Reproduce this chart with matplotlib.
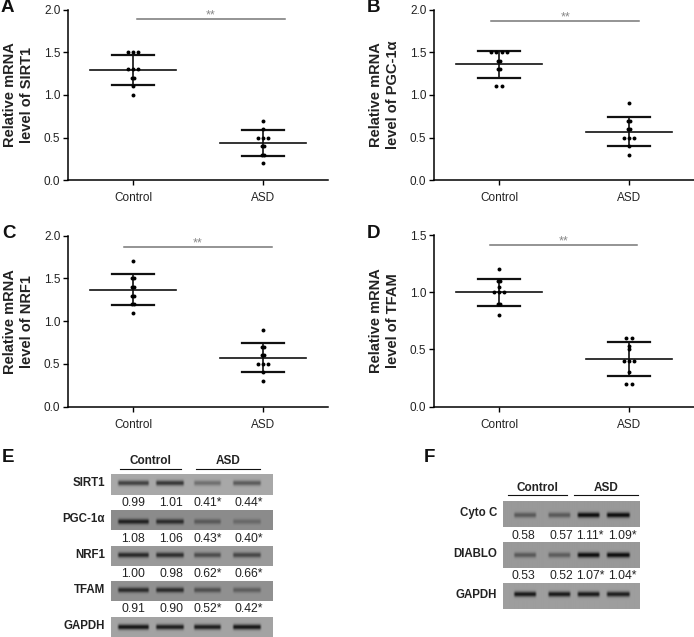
#!/usr/bin/env python3
"""Relative mRNA dot plots (A-D) and western blot panels (E, F)."""

import numpy as np
import matplotlib
matplotlib.use("Agg")
import matplotlib.pyplot as plt

plt.rcParams["font.family"] = ["Liberation Sans", "DejaVu Sans"]

W, H = 694, 637
TEXT = "#222222"

groups = ["Control", "ASD"]

sirt1_control = [1.5, 1.5, 1.5, 1.3, 1.3, 1.3, 1.2, 1.2, 1.1, 1.0]
sirt1_asd = [0.7, 0.6, 0.5, 0.5, 0.5, 0.4, 0.4, 0.3, 0.3, 0.2]
sirt1_mean = [1.29, 0.44]
sirt1_sd = [0.175, 0.15]

pgc_control = [1.5, 1.5, 1.5, 1.5, 1.4, 1.4, 1.3, 1.3, 1.1, 1.1]
pgc_asd = [0.9, 0.7, 0.7, 0.6, 0.6, 0.5, 0.5, 0.5, 0.4, 0.3]
pgc_mean = [1.36, 0.57]
pgc_sd = [0.158, 0.17]

nrf1_control = [1.7, 1.5, 1.5, 1.4, 1.4, 1.3, 1.3, 1.2, 1.2, 1.1]
nrf1_asd = [0.9, 0.7, 0.7, 0.6, 0.6, 0.5, 0.5, 0.5, 0.4, 0.3]
nrf1_mean = [1.37, 0.57]
nrf1_sd = [0.183, 0.17]

tfam_control = [1.2, 1.1, 1.1, 1.05, 1.0, 1.0, 1.0, 0.9, 0.9, 0.8]
tfam_asd = [0.6, 0.6, 0.53, 0.5, 0.4, 0.4, 0.4, 0.3, 0.2, 0.2]
tfam_mean = [1.0, 0.415]
tfam_sd = [0.118, 0.148]

e_targets = ["SIRT1", "PGC-1α", "NRF1", "TFAM", "GAPDH"]
e_values = [
    ["0.99", "1.01", "0.41*", "0.44*"],
    ["1.08", "1.06", "0.43*", "0.40*"],
    ["1.00", "0.98", "0.62*", "0.66*"],
    ["0.91", "0.90", "0.52*", "0.42*"],
]
e_band_depth = [
    [0.40, 0.44, 0.22, 0.30],
    [0.42, 0.38, 0.20, 0.14],
    [0.44, 0.42, 0.30, 0.32],
    [0.40, 0.40, 0.26, 0.20],
    [0.55, 0.52, 0.52, 0.55],
]
e_background = [0.66, 0.55, 0.60, 0.57, 0.64]

f_targets = ["Cyto C", "DIABLO", "GAPDH"]
f_values = [
    ["0.58", "0.57", "1.11*", "1.09*"],
    ["0.53", "0.52", "1.07*", "1.04*"],
]
f_band_depth = [
    [0.25, 0.25, 0.55, 0.55],
    [0.25, 0.24, 0.55, 0.55],
    [0.52, 0.52, 0.52, 0.50],
]
f_background = [0.60, 0.60, 0.62]


def add_axes_px(fig, x0, y0, x1, y1):
    """Axes from pixel box, y measured from the top of the figure."""
    return fig.add_axes([x0 / W, 1 - y1 / H, (x1 - x0) / W, (y1 - y0) / H])


def fig_text(fig, x, y, s, **kw):
    kw.setdefault("color", TEXT)
    kw.setdefault("va", "center")
    fig.text(x / W, 1 - y / H, s, **kw)


def fig_hline(fig, x0, x1, y):
    fig.add_artist(plt.Line2D([x0 / W, x1 / W], [1 - y / H, 1 - y / H],
                              color="#111111", lw=0.8))


def swarm_offsets(values):
    """Spread tied values sideways, the way a scatter dot plot does."""
    values = np.asarray(values)
    offsets = np.zeros(len(values))
    for v in np.unique(values):
        idx = np.where(values == v)[0]
        # inner pairs nearly overlap, pairs at the extremes sit apart
        if len(idx) == 2 and v not in (values.min(), values.max()):
            step = 0.015
        else:
            step = 0.042
        offsets[idx] = (np.arange(len(idx)) - (len(idx) - 1) / 2) * step
    return offsets


def dot_panel(fig, box, control, asd, means, sds, ylabel, ymax, sig_x, sig_y):
    ax = add_axes_px(fig, *box)
    for i, vals in enumerate([control, asd]):
        ax.scatter(i + swarm_offsets(vals), vals, s=8, color="black",
                   linewidths=0, zorder=3)
        m, s = means[i], sds[i]
        ax.plot([i - 0.333, i + 0.333], [m, m], color="#111111", lw=1.2)
        ax.plot([i, i], [m - s, m + s], color="#111111", lw=1.2)
        for end in (m - s, m + s):
            ax.plot([i - 0.165, i + 0.165], [end, end], color="#111111", lw=1.6)

    ax.plot(sig_x, [sig_y, sig_y], color="#777777", lw=1.1)
    ax.text(np.mean(sig_x), sig_y - 0.012 * ymax, "**", color="#888888", fontsize=9,
            ha="center", va="bottom")

    ax.set_xlim(-0.5, 1.5)
    ax.set_ylim(0, ymax)
    ax.set_xticks([0, 1], groups)
    ax.set_yticks(np.arange(0, ymax + 0.01, 0.5))
    ax.yaxis.set_major_formatter("{x:.1f}")
    ax.tick_params(labelsize=8.5, labelcolor=TEXT, width=1.0, length=3.5, pad=2)
    ax.tick_params(axis="x", pad=5)
    for side in ("top", "right"):
        ax.spines[side].set_visible(False)
    for side in ("left", "bottom"):
        ax.spines[side].set_linewidth(1.1)
    ax.set_ylabel(ylabel, fontsize=10.5, fontweight="bold", color=TEXT, linespacing=1.3)
    ax.yaxis.set_label_coords(-0.13, 0.5)
    ax.patch.set_alpha(0)
    return ax


def blot_row(fig, box, lanes, depth, background, centre):
    x0, y0, x1, y1 = box
    nx, ny = (x1 - x0) * 3, (y1 - y0) * 3
    xx = (np.arange(nx) + 0.5) / 3 + x0
    yy = (np.arange(ny) + 0.5) / 3
    img = np.full((ny, nx), float(background))
    for (a, b), d in zip(lanes, depth):
        cx, half = (a + b) / 2, (b - a) / 2
        across = np.clip((half - np.abs(xx - cx)) / 2.5, 0, 1)
        along = np.exp(-((yy - centre * (y1 - y0)) / 2.6) ** 2)
        img -= d * np.outer(along, across)
    ax = add_axes_px(fig, x0, y0, x1, y1)
    ax.imshow(np.clip(img, 0, 1), cmap="gray", vmin=0, vmax=1, aspect="auto",
              interpolation="bilinear")
    ax.axis("off")


def main():
    fig = plt.figure(figsize=(W / 100, H / 100), dpi=100)

    dot_panel(fig, (68, 9.5, 328, 180.3), sirt1_control, sirt1_asd, sirt1_mean, sirt1_sd,
              "Relative mRNA\nlevel of SIRT1", 2.0, [0.03, 1.17], 1.89)
    dot_panel(fig, (434, 9.5, 694, 180.3), pgc_control, pgc_asd, pgc_mean, pgc_sd,
              "Relative mRNA\nlevel of PGC-1α", 2.0, [-0.06, 1.08], 1.866)
    dot_panel(fig, (68, 235.7, 328, 406.7), nrf1_control, nrf1_asd, nrf1_mean, nrf1_sd,
              "Relative mRNA\nlevel of NRF1", 2.0, [-0.07, 1.07], 1.864)
    dot_panel(fig, (434, 235, 694, 406.7), tfam_control, tfam_asd, tfam_mean, tfam_sd,
              "Relative mRNA\nlevel of TFAM", 1.5, [-0.07, 1.06], 1.41)

    for letter, x, y in [("A", 1, 8), ("B", 367, 8), ("C", 2, 234),
                         ("D", 367, 234), ("E", 2, 458), ("F", 424, 458)]:
        fig_text(fig, x, y, letter, fontsize=13.5, fontweight="bold", color="#111111")

    # panel E
    e_lanes = [(117, 150), (155, 185), (193, 222), (232, 262)]
    e_rows = [(474, 495), (510, 530), (546, 566), (581, 601), (617, 637)]
    e_centres = [0.43, 0.58, 0.45, 0.45, 0.5]
    e_value_y = [503, 539, 574, 609]
    e_value_x = [133, 171, 208, 249]
    fig_text(fig, 150, 461, "Control", fontsize=8.5, fontweight="bold", ha="center")
    fig_text(fig, 228, 461, "ASD", fontsize=8.5, fontweight="bold", ha="center")
    fig_hline(fig, 120, 181, 469)
    fig_hline(fig, 196, 260, 469)
    for i, (y0, y1) in enumerate(e_rows):
        blot_row(fig, (111, y0, 273, y1), e_lanes, e_band_depth[i], e_background[i], e_centres[i])
        fig_text(fig, 105, (y0 + y1) / 2 - 1, e_targets[i], fontsize=8.3,
                 fontweight="bold", ha="right")
    for y, row in zip(e_value_y, e_values):
        for x, s in zip(e_value_x, row):
            fig_text(fig, x, y, s, fontsize=8.8, ha="center")

    # panel F
    f_lanes = [(513, 537), (547, 571), (576, 600), (605, 630)]
    f_rows = [(501, 527), (542, 568), (583, 609)]
    f_centres = [0.54, 0.5, 0.43]
    f_value_y = [536, 576]
    f_value_x = [523, 561, 590, 622]
    fig_text(fig, 537, 488, "Control", fontsize=8.5, fontweight="bold", ha="center")
    fig_text(fig, 606, 488, "ASD", fontsize=8.5, fontweight="bold", ha="center")
    fig_hline(fig, 508, 567, 495)
    fig_hline(fig, 574, 638, 495)
    for i, (y0, y1) in enumerate(f_rows):
        blot_row(fig, (503, y0, 639, y1), f_lanes, f_band_depth[i], f_background[i], f_centres[i])
        fig_text(fig, 497, (y0 + y1) / 2 - 1, f_targets[i], fontsize=8.3,
                 fontweight="bold", ha="right")
    for y, row in zip(f_value_y, f_values):
        for x, s in zip(f_value_x, row):
            fig_text(fig, x, y, s, fontsize=8.8, ha="center")

    fig.savefig("out.png", dpi=100)


if __name__ == "__main__":
    main()
